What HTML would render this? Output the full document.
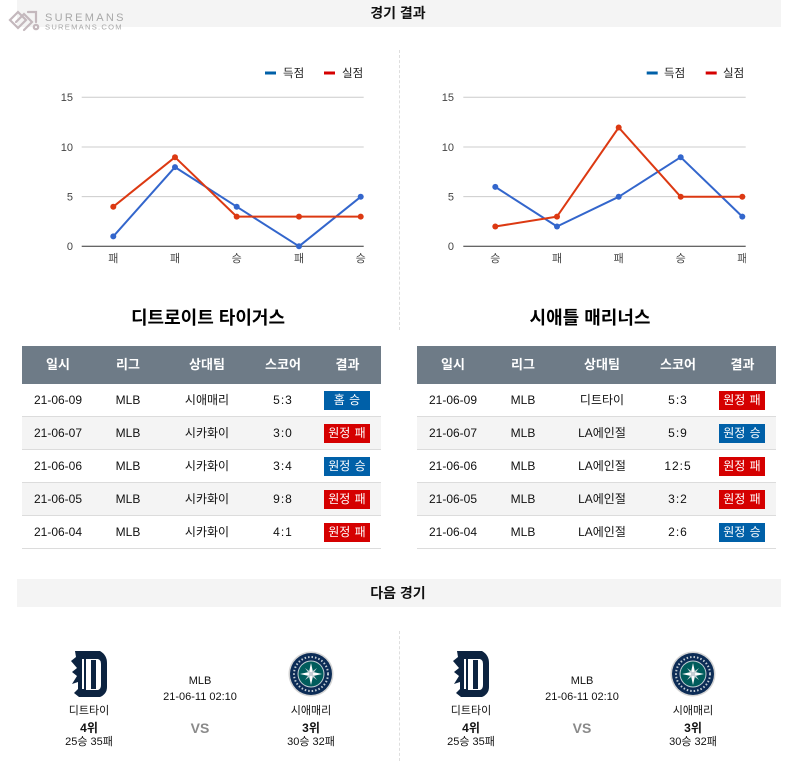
<!DOCTYPE html>
<html><head><meta charset="utf-8">
<style>
*{margin:0;padding:0;box-sizing:border-box}
html,body{width:794px;height:761px;background:#fff;overflow:hidden}
body{position:relative;font-family:"Liberation Sans","Noto Sans CJK KR",sans-serif;color:#111}
.abs{position:absolute}
.bar{position:absolute;left:17px;width:764px;background:#f4f4f4}
.bartxt{position:absolute;left:0;width:764px;text-align:center;font-size:14px;font-weight:bold;color:#111}
.title{position:absolute;width:382px;text-align:center;font-size:18px;font-weight:bold;color:#000;height:24px;line-height:24px}
.tbl{position:absolute;top:346px;width:359px}
.hd{height:38px;background:#6e7b87;display:flex}
.hd div{color:#fff;font-weight:bold;font-size:13px;line-height:38px;text-align:center}
.rw{height:33px;border-bottom:1px solid #dcdcdc;display:flex}
.rw.g{background:#f4f4f4}
.rw div{font-size:12px;line-height:32px;text-align:center;color:#111}
.rw .c4{letter-spacing:1px}
.c1{width:72px}.c2{width:68px}.c3{width:90px}.c4{width:62px}.c5{width:67px;position:relative}
.bd{position:absolute;left:10px;top:7px;width:46px;height:19px;line-height:19px!important;color:#fff!important;font-size:12px!important;text-align:center;word-spacing:1px;letter-spacing:0!important}
.bl{background:#0060a8}.rd{background:#d50000}
.t{position:absolute;width:120px;text-align:center;font-size:11px;color:#111;height:16px;line-height:16px}
.vdash{position:absolute;left:399px;width:0;border-left:1px dashed #dedede}
</style></head><body>

<!-- top bar -->
<div class="bar" style="top:0;height:27px"><div class="bartxt" style="top:4px;line-height:18px;left:-1px">경기 결과</div></div>

<!-- watermark logo -->
<svg class="abs" style="left:6px;top:6px" width="120" height="28" viewBox="0 0 120 28">
  <g fill="none" stroke="#c4b8bd" stroke-width="2.2" stroke-linecap="round">
    <path d="M4 14 L12 6 L20 14 L12 22 Z"/>
    <path d="M10 16 L18 8 L26 16 L18 24"/>
    <path d="M22 6 L30 6 L30 16"/>
    <circle cx="30" cy="21" r="2.2"/>
  </g>
  <text x="39" y="15" font-family="Liberation Sans,sans-serif" font-size="11" letter-spacing="2.3" fill="#a8a8a8">SUREMANS</text>
  <text x="39" y="23.5" font-family="Liberation Sans,sans-serif" font-size="7.6" letter-spacing="1.25" fill="#a8a8a8">SUREMANS.COM</text>
</svg>

<div class="vdash" style="top:50px;height:280px"></div>
<div class="vdash" style="top:631px;height:130px"></div>

<!-- charts -->
<svg class="abs" style="left:0;top:0" width="794" height="300" viewBox="0 0 794 300" font-family="Liberation Sans,'Noto Sans CJK KR',sans-serif">
  <defs><clipPath id="cr"><rect x="400" y="0" width="346" height="300"/></clipPath></defs>
  <g stroke="#cccccc" stroke-width="1">
    <line x1="81.7" y1="97.3" x2="363.7" y2="97.3"/>
    <line x1="81.7" y1="147" x2="363.7" y2="147"/>
    <line x1="81.7" y1="196.6" x2="363.7" y2="196.6"/>
    <line x1="463.3" y1="97.3" x2="745.7" y2="97.3"/>
    <line x1="463.3" y1="147" x2="745.7" y2="147"/>
    <line x1="463.3" y1="196.6" x2="745.7" y2="196.6"/>
  </g>
  <line x1="81.7" y1="246.3" x2="363.7" y2="246.3" stroke="#333" stroke-width="1"/>
  <line x1="463.3" y1="246.3" x2="745.7" y2="246.3" stroke="#333" stroke-width="1"/>
  <g font-size="11" fill="#444" text-anchor="end">
    <text x="73" y="101">15</text><text x="73" y="151">10</text><text x="73" y="200.5">5</text><text x="73" y="250">0</text>
    <text x="454" y="101">15</text><text x="454" y="151">10</text><text x="454" y="200.5">5</text><text x="454" y="250">0</text>
  </g>
  <g font-size="11" fill="#444" text-anchor="middle">
    <text x="113.3" y="262">패</text><text x="175" y="262">패</text><text x="236.7" y="262">승</text><text x="299" y="262">패</text><text x="360.7" y="262">승</text>
  </g>
  <g font-size="11" fill="#444" text-anchor="middle" clip-path="url(#cr)">
    <text x="495.3" y="262">승</text><text x="557" y="262">패</text><text x="618.7" y="262">패</text><text x="680.7" y="262">승</text><text x="742.3" y="262">패</text>
  </g>
  <!-- legends -->
  <rect x="265" y="71.5" width="11" height="3" fill="#0060a8"/>
  <text x="283" y="77" font-size="11.5" fill="#222">득점</text>
  <rect x="324" y="71.5" width="11" height="3" fill="#d50000"/>
  <text x="342" y="77" font-size="11.5" fill="#222">실점</text>
  <rect x="646.7" y="71.5" width="11" height="3" fill="#0060a8"/>
  <text x="664" y="77" font-size="11.5" fill="#222">득점</text>
  <rect x="705.7" y="71.5" width="11" height="3" fill="#d50000"/>
  <text x="723" y="77" font-size="11.5" fill="#222">실점</text>
  <!-- series -->
  <g fill="none" stroke-width="2" stroke-linejoin="round">
    <polyline stroke="#3366cc" points="113.3,236.4 175,167.1 236.7,206.7 299,246.3 360.7,196.8"/>
    <polyline stroke="#dc3912" points="113.3,206.7 175,157.2 236.7,216.6 299,216.6 360.7,216.6"/>
    <polyline stroke="#3366cc" points="495.3,186.9 557,226.5 618.7,196.8 680.7,157.2 742.3,216.6"/>
    <polyline stroke="#dc3912" points="495.3,226.5 557,216.6 618.7,127.5 680.7,196.8 742.3,196.8"/>
  </g>
  <g fill="#3366cc">
    <circle cx="113.3" cy="236.4" r="3"/><circle cx="175" cy="167.1" r="3"/><circle cx="236.7" cy="206.7" r="3"/><circle cx="299" cy="246.3" r="3"/><circle cx="360.7" cy="196.8" r="3"/>
    <circle cx="495.3" cy="186.9" r="3"/><circle cx="557" cy="226.5" r="3"/><circle cx="618.7" cy="196.8" r="3"/><circle cx="680.7" cy="157.2" r="3"/><circle cx="742.3" cy="216.6" r="3"/>
  </g>
  <g fill="#dc3912">
    <circle cx="113.3" cy="206.7" r="3"/><circle cx="175" cy="157.2" r="3"/><circle cx="236.7" cy="216.6" r="3"/><circle cx="299" cy="216.6" r="3"/><circle cx="360.7" cy="216.6" r="3"/>
    <circle cx="495.3" cy="226.5" r="3"/><circle cx="557" cy="216.6" r="3"/><circle cx="618.7" cy="127.5" r="3"/><circle cx="680.7" cy="196.8" r="3"/><circle cx="742.3" cy="196.8" r="3"/>
  </g>
</svg>

<!-- team titles -->
<div class="title" style="left:17px;top:306px">디트로이트 타이거스</div>
<div class="title" style="left:399px;top:306px">시애틀 매리너스</div>

<!-- left table -->
<div class="tbl" style="left:22px">
  <div class="hd"><div class="c1">일시</div><div class="c2">리그</div><div class="c3">상대팀</div><div class="c4">스코어</div><div class="c5">결과</div></div>
  <div class="rw"><div class="c1">21-06-09</div><div class="c2">MLB</div><div class="c3">시애매리</div><div class="c4">5:3</div><div class="c5"><div class="bd bl">홈 승</div></div></div>
  <div class="rw g"><div class="c1">21-06-07</div><div class="c2">MLB</div><div class="c3">시카화이</div><div class="c4">3:0</div><div class="c5"><div class="bd rd">원정 패</div></div></div>
  <div class="rw"><div class="c1">21-06-06</div><div class="c2">MLB</div><div class="c3">시카화이</div><div class="c4">3:4</div><div class="c5"><div class="bd bl">원정 승</div></div></div>
  <div class="rw g"><div class="c1">21-06-05</div><div class="c2">MLB</div><div class="c3">시카화이</div><div class="c4">9:8</div><div class="c5"><div class="bd rd">원정 패</div></div></div>
  <div class="rw"><div class="c1">21-06-04</div><div class="c2">MLB</div><div class="c3">시카화이</div><div class="c4">4:1</div><div class="c5"><div class="bd rd">원정 패</div></div></div>
</div>

<!-- right table -->
<div class="tbl" style="left:417px">
  <div class="hd"><div class="c1">일시</div><div class="c2">리그</div><div class="c3">상대팀</div><div class="c4">스코어</div><div class="c5">결과</div></div>
  <div class="rw"><div class="c1">21-06-09</div><div class="c2">MLB</div><div class="c3">디트타이</div><div class="c4">5:3</div><div class="c5"><div class="bd rd">원정 패</div></div></div>
  <div class="rw g"><div class="c1">21-06-07</div><div class="c2">MLB</div><div class="c3">LA에인절</div><div class="c4">5:9</div><div class="c5"><div class="bd bl">원정 승</div></div></div>
  <div class="rw"><div class="c1">21-06-06</div><div class="c2">MLB</div><div class="c3">LA에인절</div><div class="c4">12:5</div><div class="c5"><div class="bd rd">원정 패</div></div></div>
  <div class="rw g"><div class="c1">21-06-05</div><div class="c2">MLB</div><div class="c3">LA에인절</div><div class="c4">3:2</div><div class="c5"><div class="bd rd">원정 패</div></div></div>
  <div class="rw"><div class="c1">21-06-04</div><div class="c2">MLB</div><div class="c3">LA에인절</div><div class="c4">2:6</div><div class="c5"><div class="bd bl">원정 승</div></div></div>
</div>

<!-- next game bar -->
<div class="bar" style="top:579px;height:28px"><div class="bartxt" style="top:5px;line-height:18px;left:-1px">다음 경기</div></div>

<!-- logos -->
<svg class="abs" style="left:0;top:640px" width="794" height="70" viewBox="0 640 794 70">
  <defs>
    <g id="tig">
      <path d="M5 0 H30 Q37 4 37 12 V36 Q37 43 30 46 H9 L4 42 L8 38 V31 L2 33 L7 25 L2 21 L7 17 L1 10 L6 6 Z" fill="#0c2340"/>
      <path d="M16 8 H28 Q31 9 31 13 V34 Q31 38 28 39 H16 Z" fill="#fff"/>
      <rect x="21" y="9" width="5" height="29" fill="#0c2340"/>
      <rect x="12" y="8" width="2" height="30" fill="#fff"/>
    </g>
    <g id="mar">
      <circle cx="0" cy="0" r="22.5" fill="#d4d4d4"/>
      <circle cx="0" cy="0" r="21" fill="#0c2c56"/>
      <circle cx="0" cy="0" r="13.5" fill="#c4ced4"/>
      <circle cx="0" cy="0" r="12.5" fill="#005c5c"/>
      <path d="M0 -11 L2 -2 L11 0 L2 2 L0 11 L-2 2 L-11 0 L-2 -2 Z" fill="#fff"/>
      <path d="M-6 -6 L1 -1 L6 6 L-1 1 Z" fill="#c4ced4"/>
      <path d="M6 -6 L1 1 L-6 6 L-1 -1 Z" fill="#c4ced4"/>
      <circle cx="0" cy="0" r="17" fill="none" stroke="#c4ced4" stroke-width="2" stroke-dasharray="1.5 2"/>
    </g>
  </defs>
  <use href="#tig" x="70" y="651"/>
  <use href="#tig" x="452" y="651"/>
  <use href="#mar" x="311" y="674"/>
  <use href="#mar" x="693" y="674"/>
</svg>

<!-- next game texts left -->
<div class="t" style="left:29px;top:703px">디트타이</div>
<div class="t" style="left:29px;top:720px;font-weight:bold;font-size:12px">4위</div>
<div class="t" style="left:29px;top:734px">25승 35패</div>
<div class="t" style="left:140px;top:673px">MLB</div>
<div class="t" style="left:140px;top:689px">21-06-11 02:10</div>
<div class="t" style="left:140px;top:720px;font-weight:bold;color:#8a8a8a;font-size:14px">VS</div>
<div class="t" style="left:251px;top:703px">시애매리</div>
<div class="t" style="left:251px;top:720px;font-weight:bold;font-size:12px">3위</div>
<div class="t" style="left:251px;top:734px">30승 32패</div>

<!-- next game texts right -->
<div class="t" style="left:411px;top:703px">디트타이</div>
<div class="t" style="left:411px;top:720px;font-weight:bold;font-size:12px">4위</div>
<div class="t" style="left:411px;top:734px">25승 35패</div>
<div class="t" style="left:522px;top:673px">MLB</div>
<div class="t" style="left:522px;top:689px">21-06-11 02:10</div>
<div class="t" style="left:522px;top:720px;font-weight:bold;color:#8a8a8a;font-size:14px">VS</div>
<div class="t" style="left:633px;top:703px">시애매리</div>
<div class="t" style="left:633px;top:720px;font-weight:bold;font-size:12px">3위</div>
<div class="t" style="left:633px;top:734px">30승 32패</div>

</body></html>
